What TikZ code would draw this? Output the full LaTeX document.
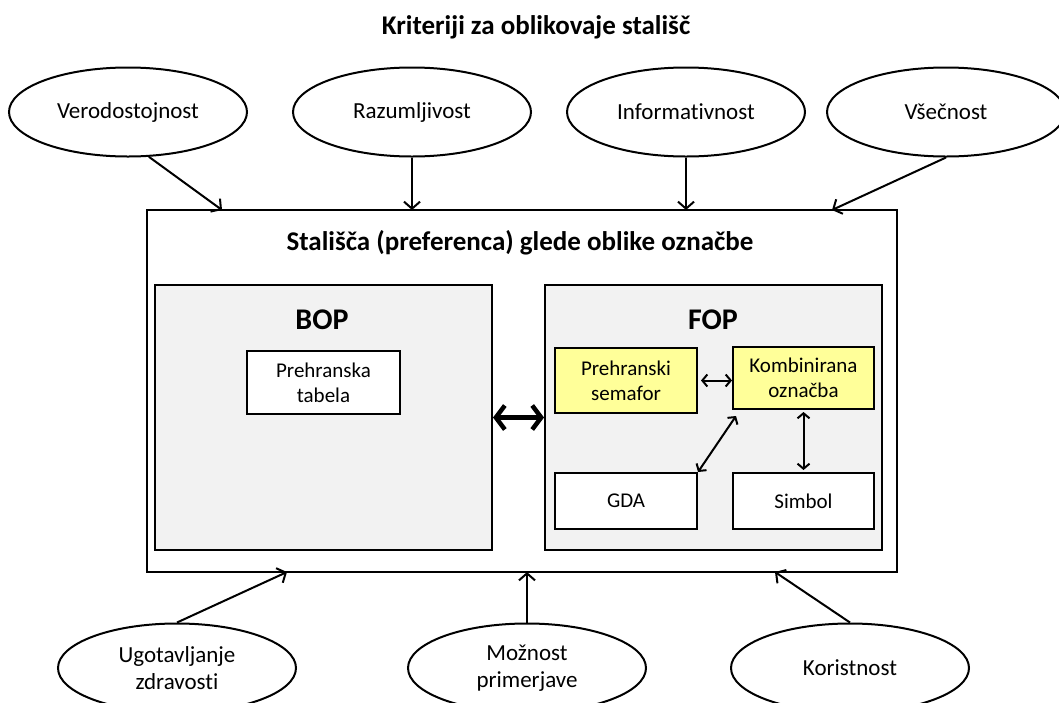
\documentclass[tikz,border=0pt]{standalone}
\usepackage{fontspec}
\setmainfont{Carlito}[Ligatures=NoCommon]
\usepackage{tikz}
\usetikzlibrary{arrows.meta,shapes.geometric}
\definecolor{panelgray}{HTML}{F2F2F2}
\definecolor{lightyellow}{HTML}{FFFF99}
\tikzset{
  crit/.style={ellipse, draw=black, line width=2pt, minimum width=238pt, minimum height=89pt, inner sep=0pt, align=center, font=\fontsize{23}{27}\selectfont},
  frame/.style={draw=black, line width=2.6pt, fill=white, inner sep=0pt},
  panel/.style={draw=black, line width=2pt, fill=panelgray, inner sep=0pt},
  wbox/.style={draw=black, line width=2pt, fill=white, align=center, inner sep=0pt, font=\fontsize{21}{25}\selectfont},
  ybox/.style={wbox, fill=lightyellow},
  arr/.style={draw=black, line width=2pt, -{Straight Barb[length=7pt,width=16pt]}},
  biarr/.style={draw=black, line width=2pt, {Straight Barb[length=5pt,width=12pt]}-{Straight Barb[length=5pt,width=12pt]}},
  bigarr/.style={draw=black, line width=4.5pt, {Straight Barb[length=9pt,width=24pt]}-{Straight Barb[length=9pt,width=24pt]}},
  hd/.style={font=\fontsize{27}{32}\selectfont\bfseries},
  phd/.style={font=\fontsize{30}{36}\selectfont\bfseries}
}

\begin{document}
\begin{tikzpicture}[x=1pt, y=-1pt]
  \useasboundingbox (0,0) rectangle (1059,702);

  \node[hd] (title) at (536,27) {Kriteriji za oblikovaje stališč};

  \node[frame, minimum width=750pt, minimum height=362pt] (outer) at (522,391) {};
  \node[hd] (head) at (520,243) {Stališča (preferenca) glede oblike označbe};

  \node[panel, minimum width=337pt, minimum height=265pt] (bop) at (323.5,417.5) {};
  \node[panel, minimum width=337pt, minimum height=265pt] (fop) at (713.5,417.5) {};
  \node[phd] (boplbl) at (322,320) {BOP};
  \node[phd] (foplbl) at (713,320) {FOP};

  \node[wbox, minimum width=153pt, minimum height=63pt] (tab) at (323.5,382.5) {Prehranska\\tabela};
  \node[ybox, minimum width=142pt, minimum height=65pt] (sem) at (626,380.5) {Prehranski\\semafor};
  \node[ybox, minimum width=141pt, minimum height=62pt] (komb) at (803.5,378) {Kombinirana\\označba};
  \node[wbox, minimum width=142pt, minimum height=56pt] (gda) at (626,501) {GDA};
  \node[wbox, minimum width=141pt, minimum height=56pt] (sim) at (803.5,501) {Simbol};

  \node[crit] (ver) at (128,112) {Verodostojnost};
  \node[crit] (raz) at (412,112) {Razumljivost};
  \node[crit] (inf) at (686,112) {Informativnost};
  \node[crit] (vse) at (946,112) {Všečnost};
  \node[crit] (ugo) at (177,668) {Ugotavljanje\\zdravosti};
  \node[crit] (moz) at (527,668) {Možnost\\primerjave};
  \node[crit] (kor) at (850,668) {Koristnost};

  \coordinate (tver) at (222,210);
  \coordinate (traz) at (412,210);
  \coordinate (tinf) at (686,210);
  \coordinate (tvse) at (832,210);
  \coordinate (bugo) at (287,572);
  \coordinate (bmoz) at (527,572);
  \coordinate (bkor) at (775,572);

  \draw[arr] (ver.-65) -- (tver);
  \draw[arr] (raz.south) -- (traz);
  \draw[arr] (inf.south) -- (tinf);
  \draw[arr] (vse.south) -- (tvse);
  \draw[arr] (ugo.north) -- (bugo);
  \draw[arr] (moz.north) -- (bmoz);
  \draw[arr] (kor.north) -- (bkor);

  \draw[bigarr] (bop.east) -- (fop.west);
  \draw[biarr] ([xshift=3pt]sem.east) -- (sem.east -| komb.west);
  \draw[biarr] ([yshift=-2pt]komb.south) -- ([yshift=2pt]sim.north);
  \draw[biarr] ([xshift=4pt,yshift=-6pt]komb.south west) -- (gda.north east);
\end{tikzpicture}
\end{document}
